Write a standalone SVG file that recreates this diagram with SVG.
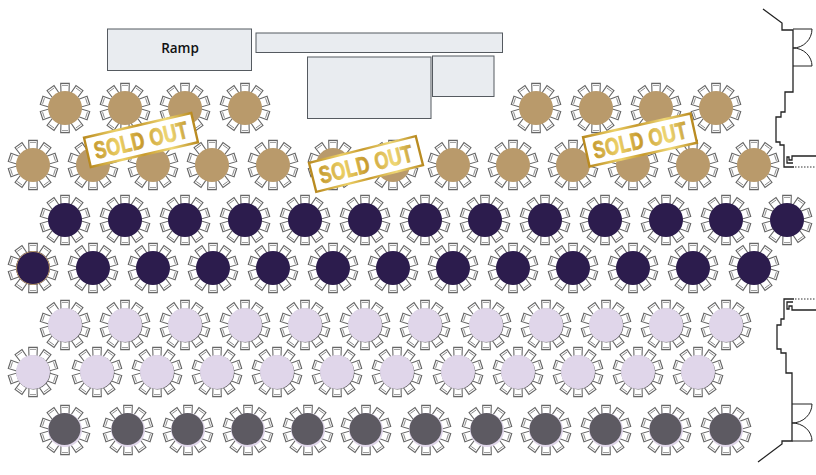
<svg xmlns="http://www.w3.org/2000/svg" width="816" height="475" viewBox="0 0 816 475">
<style>
.box{fill:#e9ecf0;stroke:#555a60;stroke-width:1}
.wall{fill:none;stroke:#222;stroke-width:1.3}
.dot{fill:none;stroke:#333;stroke-width:1;stroke-dasharray:1.5 1.5}
.c{fill:#fff;stroke:#666;stroke-width:1.1}
.c2{fill:none;stroke:#888;stroke-width:.9}
.tan{fill:#b99a6b}.dk{fill:#2c1c4d}.li{fill:#e0d6ea}.gr{fill:#5d5a62}
.frame{fill:#fff;stroke:url(#gold);stroke-width:2.4}
.so{font-family:"Liberation Sans",Arial,sans-serif;font-weight:700;font-size:24px;fill:url(#gold);stroke:url(#gold);stroke-width:.8;text-anchor:middle;letter-spacing:.5px}
.lbl{font-family:"Open Sans","Liberation Sans",sans-serif;font-weight:600;font-size:13.500px;fill:#111;text-anchor:middle}
</style>
<defs>
<linearGradient id="gold" gradientUnits="userSpaceOnUse" x1="-56" y1="0" x2="56" y2="0">
<stop offset="0" stop-color="#b8891f"/><stop offset=".3" stop-color="#ecd066"/><stop offset=".5" stop-color="#c79a2e"/><stop offset=".75" stop-color="#efd876"/><stop offset="1" stop-color="#b8891f"/>
</linearGradient>
<g id="ch"><path class="c" d="M-4-15L-4.300-24.600L4.300-24.600L4-15Z"/><path class="c2" d="M-3-22.600H3"/></g>
<g id="chairs">
<use href="#ch"/><use href="#ch" transform="rotate(36)"/><use href="#ch" transform="rotate(72)"/><use href="#ch" transform="rotate(108)"/><use href="#ch" transform="rotate(144)"/><use href="#ch" transform="rotate(180)"/><use href="#ch" transform="rotate(216)"/><use href="#ch" transform="rotate(252)"/><use href="#ch" transform="rotate(288)"/><use href="#ch" transform="rotate(324)"/>
</g>
<g id="t-tan"><use href="#chairs"/><circle r="17" class="tan"/></g>
<g id="t-dk"><use href="#chairs"/><circle r="17" class="dk"/></g>
<g id="t-li"><use href="#chairs"/><circle cx=".4" cy=".4" r="17" fill="#555"/><circle r="17" class="li"/></g>
<g id="t-gr"><use href="#chairs"/><circle r="17" class="li"/><circle cx="-.5" cy="-1" r="16" class="gr"/></g>
</defs>
<rect width="816" height="475" fill="#fff"/>

<g id="ramp"><rect class="box" x="107.500" y="29" width="144" height="41.500"/><text class="lbl" x="180" y="53">Ramp</text></g>
<g id="stage-top"><rect class="box" x="256" y="33" width="246.500" height="19.500"/></g>
<g id="stage-main"><rect class="box" x="307.500" y="57" width="123.500" height="61.500"/></g>
<g id="stage-side"><rect class="box" x="432.500" y="56" width="61.500" height="40.500"/></g>

<g id="connectors">
<path class="wall" d="M763 9L782 23V30H793V66V92H785V112H781V117H776V142H780V145H784V167H794"/>
<path class="wall" style="stroke-width:1" d="M793 29H812A19 19 0 0 1 793 48A19 18 0 0 1 812 66H793"/>
<path class="wall" d="M816 156H792V160H789V157H787V163H793"/>
<path class="dot" d="M795 167H816"/>
<path class="wall" d="M794 299H784V319H781V325H777V349H781V353H786V373H792V441H782V444L758 462"/>
<path class="wall" style="stroke-width:1" d="M792 404H812A20 19 0 0 1 792 423A20 18 0 0 1 812 441H792"/>
<path class="wall" d="M816 310H792V306H789V309H787V302H793"/>
<path class="dot" d="M795 299H816"/>
</g>

<g id="row1">
<use id="a1" href="#t-tan" x="65" y="108"/><use id="a2" href="#t-tan" x="125" y="108"/><use id="a3" href="#t-tan" x="185" y="108"/><use id="a4" href="#t-tan" x="245" y="108"/><use id="a5" href="#t-tan" x="536" y="108"/><use id="a6" href="#t-tan" x="596" y="108"/><use id="a7" href="#t-tan" x="656" y="108"/><use id="a8" href="#t-tan" x="716" y="108"/>
</g>
<g id="row2">
<use id="b1" href="#t-tan" x="33" y="165"/><use id="b2" href="#t-tan" x="93" y="165"/><use id="b3" href="#t-tan" x="153" y="165"/><use id="b4" href="#t-tan" x="212" y="165"/><use id="b5" href="#t-tan" x="273" y="165"/><use id="b6" href="#t-tan" x="333" y="165"/><use id="b7" href="#t-tan" x="393" y="165"/><use id="b8" href="#t-tan" x="453" y="165"/><use id="b9" href="#t-tan" x="513" y="165"/><use id="b10" href="#t-tan" x="573" y="165"/><use id="b11" href="#t-tan" x="633" y="165"/><use id="b12" href="#t-tan" x="693" y="165"/><use id="b13" href="#t-tan" x="754" y="165"/>
</g>
<g id="row3">
<use id="c1" href="#t-dk" x="65" y="220"/><use id="c2" href="#t-dk" x="125" y="220"/><use id="c3" href="#t-dk" x="185" y="220"/><use id="c4" href="#t-dk" x="245" y="220"/><use id="c5" href="#t-dk" x="305" y="220"/><use id="c6" href="#t-dk" x="365" y="220"/><use id="c7" href="#t-dk" x="425" y="220"/><use id="c8" href="#t-dk" x="485" y="220"/><use id="c9" href="#t-dk" x="545" y="220"/><use id="c10" href="#t-dk" x="605" y="220"/><use id="c11" href="#t-dk" x="666" y="220"/><use id="c12" href="#t-dk" x="726" y="220"/><use id="c13" href="#t-dk" x="787" y="220"/>
</g>
<g id="row4">
<use id="d1" href="#t-dk" x="33" y="268"/><circle cx="33" cy="268" r="16.500" fill="none" stroke="#b99a6b" stroke-width="1"/><use id="d2" href="#t-dk" x="93" y="268"/><use id="d3" href="#t-dk" x="153" y="268"/><use id="d4" href="#t-dk" x="213" y="268"/><use id="d5" href="#t-dk" x="273" y="268"/><use id="d6" href="#t-dk" x="333" y="268"/><use id="d7" href="#t-dk" x="393" y="268"/><use id="d8" href="#t-dk" x="453" y="268"/><use id="d9" href="#t-dk" x="513" y="268"/><use id="d10" href="#t-dk" x="573" y="268"/><use id="d11" href="#t-dk" x="633" y="268"/><use id="d12" href="#t-dk" x="693" y="268"/><use id="d13" href="#t-dk" x="754" y="268"/>
</g>
<g id="row5">
<use id="e1" href="#t-li" x="65" y="325"/><use id="e2" href="#t-li" x="125" y="325"/><use id="e3" href="#t-li" x="185" y="325"/><use id="e4" href="#t-li" x="245" y="325"/><use id="e5" href="#t-li" x="305" y="325"/><use id="e6" href="#t-li" x="365" y="325"/><use id="e7" href="#t-li" x="425" y="325"/><use id="e8" href="#t-li" x="486" y="325"/><use id="e9" href="#t-li" x="546" y="325"/><use id="e10" href="#t-li" x="606" y="325"/><use id="e11" href="#t-li" x="666" y="325"/><use id="e12" href="#t-li" x="726" y="325"/>
</g>
<g id="row6">
<use id="f1" href="#t-li" x="33" y="372"/><use id="f2" href="#t-li" x="97" y="372"/><use id="f3" href="#t-li" x="157" y="372"/><use id="f4" href="#t-li" x="217" y="372"/><use id="f5" href="#t-li" x="277" y="372"/><use id="f6" href="#t-li" x="337" y="372"/><use id="f7" href="#t-li" x="397" y="372"/><use id="f8" href="#t-li" x="458" y="372"/><use id="f9" href="#t-li" x="518" y="372"/><use id="f10" href="#t-li" x="578" y="372"/><use id="f11" href="#t-li" x="638" y="372"/><use id="f12" href="#t-li" x="698" y="372"/>
</g>
<g id="row7">
<use id="g1" href="#t-gr" x="65" y="430"/><use id="g2" href="#t-gr" x="128" y="430"/><use id="g3" href="#t-gr" x="188" y="430"/><use id="g4" href="#t-gr" x="248" y="430"/><use id="g5" href="#t-gr" x="308" y="430"/><use id="g6" href="#t-gr" x="366" y="430"/><use id="g7" href="#t-gr" x="426" y="430"/><use id="g8" href="#t-gr" x="487" y="430"/><use id="g9" href="#t-gr" x="546" y="430"/><use id="g10" href="#t-gr" x="606" y="430"/><use id="g11" href="#t-gr" x="666" y="430"/><use id="g12" href="#t-gr" x="726" y="430"/>
</g>

<g id="sold1" transform="translate(141 140) rotate(-13)"><rect class="frame" x="-55" y="-15" width="110" height="30"/><text class="so" y="8.500" textLength="96" lengthAdjust="spacingAndGlyphs">SOLD OUT</text></g>
<g id="sold2" transform="translate(366 164) rotate(-14)"><rect class="frame" x="-55" y="-15" width="110" height="30"/><text class="so" y="8.500" textLength="96" lengthAdjust="spacingAndGlyphs">SOLD OUT</text></g>
<g id="sold3" transform="translate(640 140) rotate(-12.500)"><rect class="frame" x="-55" y="-15" width="110" height="30"/><text class="so" y="8.500" textLength="96" lengthAdjust="spacingAndGlyphs">SOLD OUT</text></g>
</svg>
